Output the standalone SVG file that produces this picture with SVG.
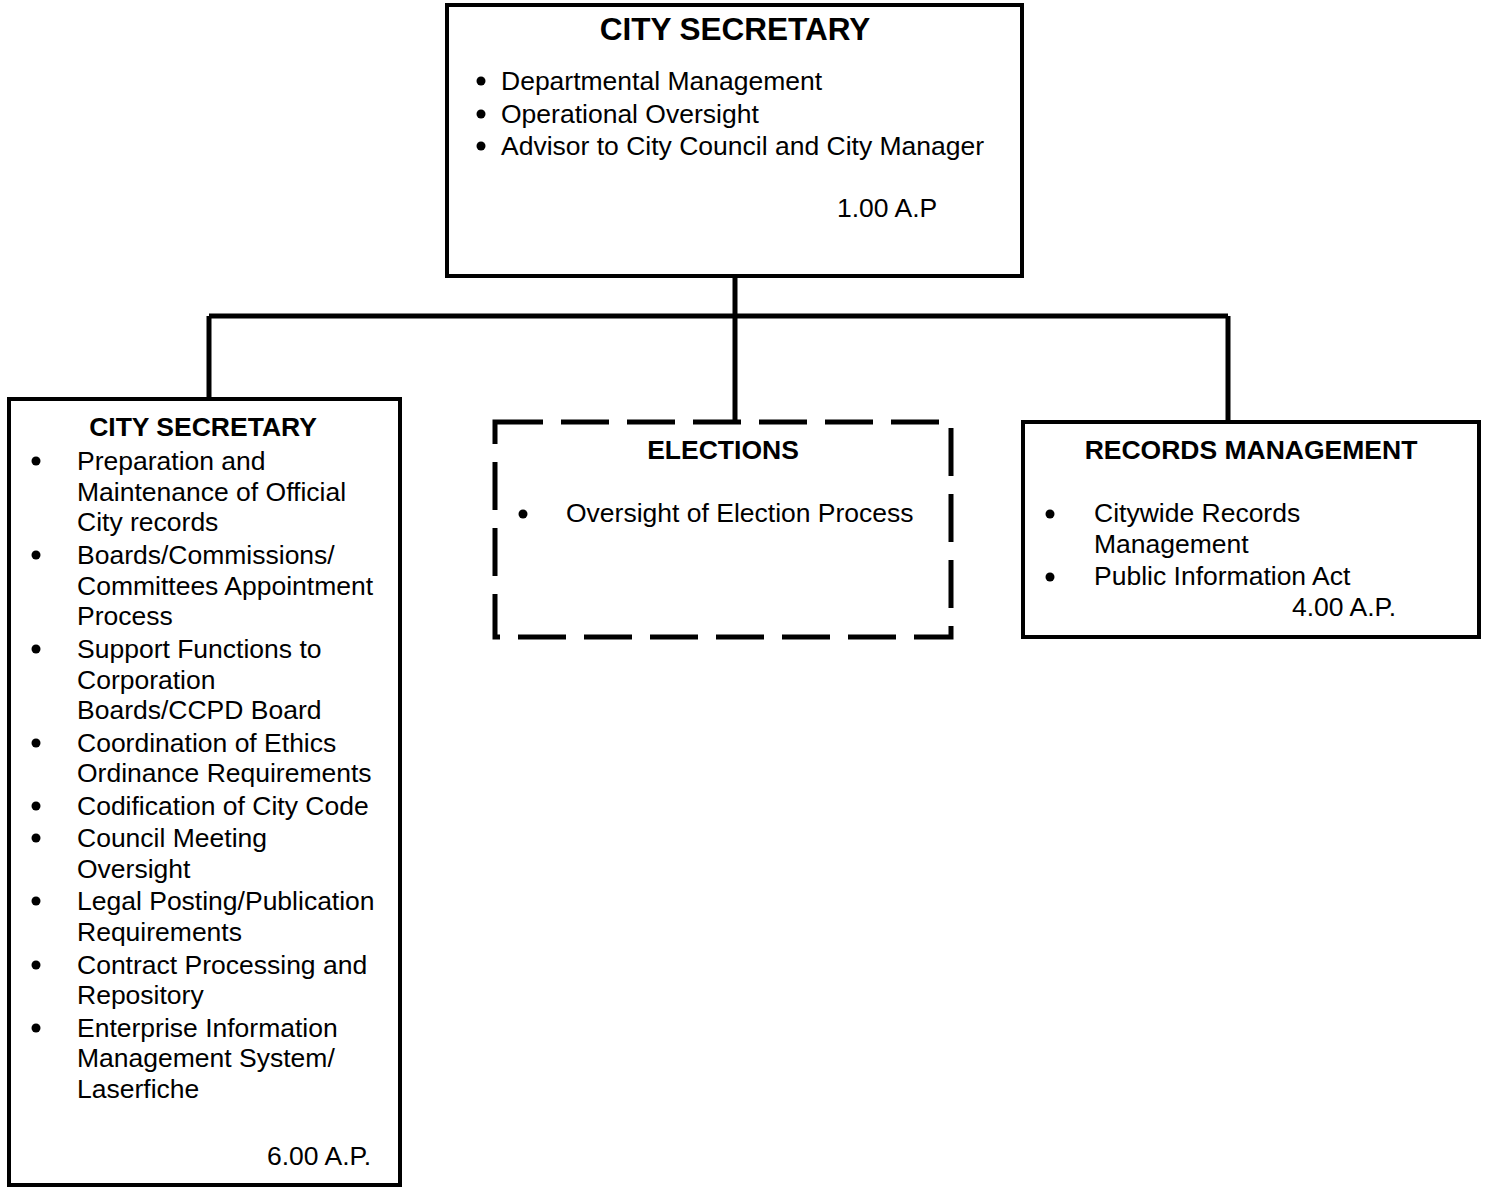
<svg xmlns="http://www.w3.org/2000/svg" width="1486" height="1187" viewBox="0 0 1486 1187">
  <style>
    .box { fill: #fff; stroke: #000; stroke-width: 4; }
    .dashed { fill: #fff; stroke: #000; stroke-width: 5; stroke-dasharray: 48 18; }
    .link { fill: none; stroke: #000; stroke-width: 5; }
    text { font-family: "Liberation Sans", Arial, sans-serif; fill: #000; }
    .title { font-size: 26.5px; font-weight: bold; text-anchor: middle; }
    .head { font-size: 31.5px; font-weight: bold; text-anchor: middle; }
    .body { font-size: 26.5px; }
    .dot { fill: #000; }
  </style>
  <rect width="1486" height="1187" fill="#fff"/>

  <!-- reporting lines -->
  <g id="connectors">
    <path class="link" d="M735 276 V316"/>
    <path class="link" d="M209 316 H1228"/>
    <path class="link" d="M209 316 V399"/>
    <path class="link" d="M735 316 V422"/>
    <path class="link" d="M1228 316 V422"/>
  </g>

  <!-- department head -->
  <g id="city-secretary-head">
    <rect class="box" x="447" y="5" width="575" height="271"/>
    <text class="head" x="735" y="40">CITY SECRETARY</text>
    <circle class="dot" cx="481" cy="81" r="4.5"/>
    <circle class="dot" cx="481" cy="114" r="4.5"/>
    <circle class="dot" cx="481" cy="146" r="4.5"/>
    <text class="body" x="501" y="90">Departmental Management</text>
    <text class="body" x="501" y="123">Operational Oversight</text>
    <text class="body" x="501" y="155">Advisor to City Council and City Manager</text>
    <text class="body" x="837" y="217">1.00 A.P</text>
  </g>

  <!-- city secretary office -->
  <g id="city-secretary-office">
    <rect class="box" x="9" y="399" width="391" height="786"/>
    <text class="title" x="203" y="436">CITY SECRETARY</text>
    <g class="dot">
      <circle cx="36" cy="461" r="4.5"/>
      <circle cx="36" cy="555" r="4.5"/>
      <circle cx="36" cy="649" r="4.5"/>
      <circle cx="36" cy="743" r="4.5"/>
      <circle cx="36" cy="806" r="4.5"/>
      <circle cx="36" cy="838" r="4.5"/>
      <circle cx="36" cy="901" r="4.5"/>
      <circle cx="36" cy="965" r="4.5"/>
      <circle cx="36" cy="1028" r="4.5"/>
    </g>
    <g class="body">
      <text class="body" x="77" y="470">Preparation and</text>
      <text class="body" x="77" y="501">Maintenance of Official</text>
      <text class="body" x="77" y="531">City records</text>
      <text class="body" x="77" y="564">Boards/Commissions/</text>
      <text class="body" x="77" y="595">Committees Appointment</text>
      <text class="body" x="77" y="625">Process</text>
      <text class="body" x="77" y="658">Support Functions to</text>
      <text class="body" x="77" y="689">Corporation</text>
      <text class="body" x="77" y="719">Boards/CCPD Board</text>
      <text class="body" x="77" y="752">Coordination of Ethics</text>
      <text class="body" x="77" y="782">Ordinance Requirements</text>
      <text class="body" x="77" y="815">Codification of City Code</text>
      <text class="body" x="77" y="847">Council Meeting</text>
      <text class="body" x="77" y="878">Oversight</text>
      <text class="body" x="77" y="910">Legal Posting/Publication</text>
      <text class="body" x="77" y="941">Requirements</text>
      <text class="body" x="77" y="974">Contract Processing and</text>
      <text class="body" x="77" y="1004">Repository</text>
      <text class="body" x="77" y="1037">Enterprise Information</text>
      <text class="body" x="77" y="1067">Management System/</text>
      <text class="body" x="77" y="1098">Laserfiche</text>
    </g>
    <text class="body" x="267" y="1165">6.00 A.P.</text>
  </g>

  <!-- elections -->
  <g id="elections">
    <rect class="dashed" x="495" y="422" width="456" height="215"/>
    <text class="title" x="723" y="459">ELECTIONS</text>
    <circle class="dot" cx="523" cy="514" r="4.5"/>
    <text class="body" x="566" y="522">Oversight of Election Process</text>
  </g>

  <!-- records management -->
  <g id="records-management">
    <rect class="box" x="1023" y="422" width="456" height="215"/>
    <text class="title" x="1251" y="459">RECORDS MANAGEMENT</text>
    <circle class="dot" cx="1050" cy="514" r="4.5"/>
    <circle class="dot" cx="1050" cy="577" r="4.5"/>
    <text class="body" x="1094" y="522">Citywide Records</text>
    <text class="body" x="1094" y="553">Management</text>
    <text class="body" x="1094" y="585">Public Information Act</text>
    <text class="body" x="1292" y="616">4.00 A.P.</text>
  </g>
</svg>
